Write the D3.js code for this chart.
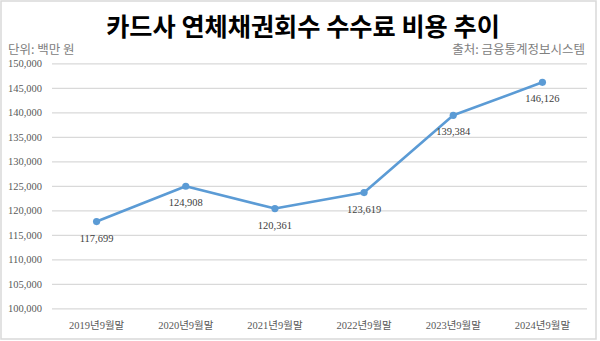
<!DOCTYPE html>
<html><head><meta charset="utf-8">
<script src="https://cdn.jsdelivr.net/npm/d3@7"></script>
<style>html,body{margin:0;padding:0;background:#fff;}svg{display:block;}</style>
</head><body>
<script>
const categories = ["2019년9월말","2020년9월말","2021년9월말","2022년9월말","2023년9월말","2024년9월말"];
const values = [117699, 124908, 120361, 123619, 139384, 146126];
const yTicks = [100000,105000,110000,115000,120000,125000,130000,135000,140000,145000,150000];
const title = "카드사 연체채권회수 수수료 비용 추이";
const unitText = "단위: 백만 원";
const sourceText = "출처: 금융통계정보시스템";

(function(){
const W = 600, H = 341;
const svg = d3.select("body").append("svg").attr("width", W).attr("height", H);
svg.append("rect").attr("x",1).attr("y",1).attr("width",W-5).attr("height",H-3)
  .attr("fill","#fff").attr("stroke","#d9d9d9").attr("stroke-width",1.5);

const mLeft = 52, mRight = 587, mTop = 63.3, mBottom = 308.3;
const x = d3.scaleBand().domain(categories).range([mLeft, mRight]);
const y = d3.scaleLinear().domain([100000,150000]).range([mBottom, mTop]);
const fmt = d3.format(",");
const numFont = "'Liberation Serif', 'Noto Sans CJK KR', serif";

svg.append("text").attr("x",303).attr("y",36).attr("text-anchor","middle")
  .attr("font-family","'Noto Sans CJK KR', sans-serif").attr("font-weight","bold")
  .attr("font-size",25.2).attr("fill","#000").text(title);
svg.append("text").attr("x",8).attr("y",54)
  .attr("font-family","'Noto Sans CJK KR', sans-serif").attr("font-size",12.5)
  .attr("fill","#808080").text(unitText);
svg.append("text").attr("x",585).attr("y",54).attr("text-anchor","end")
  .attr("font-family","'Noto Sans CJK KR', sans-serif").attr("font-size",12.5)
  .attr("fill","#808080").text(sourceText);

const yAxis = d3.axisLeft(y).tickValues(yTicks).tickFormat(fmt).tickSize(-(mRight-mLeft)).tickPadding(10);
const gy = svg.append("g").attr("transform",`translate(${mLeft},0)`).call(yAxis);
gy.select(".domain").remove();
gy.selectAll(".tick line").attr("stroke","#d9d9d9").attr("stroke-width",1.3);
gy.selectAll(".tick text").attr("font-family",numFont).attr("font-size",10.5).attr("fill","#595959");

const xAxis = d3.axisBottom(x).tickSize(0).tickPadding(13);
const gx = svg.append("g").attr("transform",`translate(0,${mBottom})`).call(xAxis);
gx.select(".domain").remove();
gx.selectAll(".tick text").attr("font-family",numFont).attr("font-size",10.5).attr("fill","#595959");

const cx = d => x(d) + x.bandwidth()/2;
const line = d3.line().x((d,i)=>cx(categories[i])).y(d=>y(d));
svg.append("path").datum(values).attr("d",line).attr("fill","none")
  .attr("stroke","#5b9bd5").attr("stroke-width",2.6).attr("stroke-linejoin","round");
svg.selectAll("circle.pt").data(values).enter().append("circle")
  .attr("cx",(d,i)=>cx(categories[i])).attr("cy",d=>y(d)).attr("r",3.6).attr("fill","#5b9bd5");
svg.selectAll("text.lbl").data(values).enter().append("text")
  .attr("x",(d,i)=>cx(categories[i])).attr("y",d=>y(d)+20).attr("text-anchor","middle")
  .attr("font-family",numFont).attr("font-size",10.5).attr("fill","#404040").text(d=>fmt(d));
})();
</script>
</body></html>
